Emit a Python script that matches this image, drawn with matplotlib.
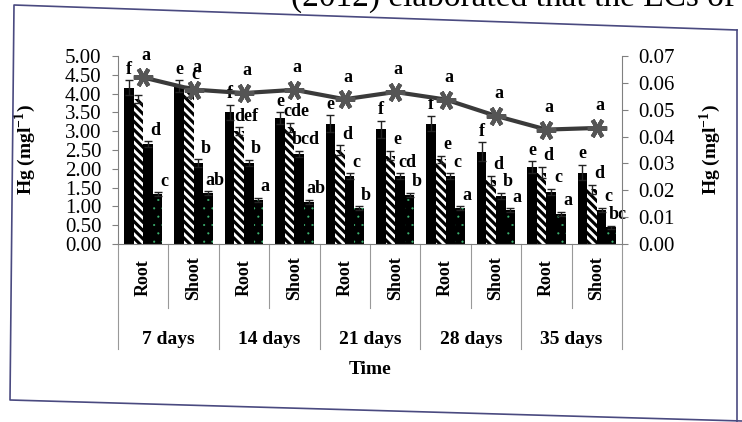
import numpy as np
import matplotlib
matplotlib.use("Agg")
import matplotlib.pyplot as plt
import matplotlib.transforms as mtransforms
from matplotlib.lines import Line2D

plt.rcParams['font.family'] = 'Liberation Serif'
plt.rcParams['mathtext.fontset'] = 'custom'
plt.rcParams['mathtext.rm'] = 'Liberation Serif'
plt.rcParams['mathtext.bf'] = 'Liberation Serif:bold'

# categories
parts = ["Root", "Shoot"] * 5
days = ["7 days", "14 days", "21 days", "28 days", "35 days"]

# bar series (left axis, Hg mg/l)
bar1 = [4.15, 4.20, 3.50, 3.35, 3.20, 3.05, 3.20, 2.45, 2.05, 1.90]
err1 = [0.20, 0.15, 0.20, 0.15, 0.22, 0.22, 0.20, 0.25, 0.15, 0.20]
bar2 = [3.85, 4.05, 3.00, 3.10, 2.50, 2.35, 2.25, 1.70, 1.90, 1.45]
err2 = [0.10, 0.15, 0.10, 0.12, 0.12, 0.12, 0.10, 0.12, 0.15, 0.12]
bar3 = [2.65, 2.15, 2.15, 2.40, 1.80, 1.80, 1.80, 1.28, 1.38, 0.90]
err3 = [0.08, 0.10, 0.08, 0.08, 0.08, 0.08, 0.08, 0.08, 0.08, 0.06]
bar4 = [1.32, 1.35, 1.18, 1.12, 0.95, 1.30, 0.95, 0.90, 0.80, 0.45]
err4 = [0.05, 0.05, 0.05, 0.05, 0.05, 0.05, 0.05, 0.05, 0.05, 0.04]

# significance letters
lab1 = ["f", "e", "f", "e", "e", "f", "f", "f", "e", "e"]
lab2 = ["", "c", "def", "cde", "d", "e", "e", "d", "d", "d"]
lab3 = ["d", "b", "b", "bcd", "c", "cd", "c", "b", "c", "c"]
lab4 = ["c", "ab", "a", "ab", "b", "b", "a", "a", "a", "bc"]

# line series (right axis)
line_vals = [0.0620, 0.0575, 0.0562, 0.0574, 0.0539, 0.0566, 0.0538, 0.0477, 0.0426, 0.0432]
line_labs = ["a"] * 10

W, H = 742, 422
fig = plt.figure(figsize=(W / 100, H / 100), dpi=100)
ax = fig.add_axes([118 / W, 1 - 244 / H, 504 / W, 188 / H])

x = np.arange(len(parts))
w = 0.19
offs = [-1.5 * w, -0.5 * w, 0.5 * w, 1.5 * w]
series = [(bar1, err1, lab1, dict(color="black", linewidth=0), 1.0),
          (bar2, err2, lab2, dict(facecolor="black", edgecolor="white", hatch="\\\\\\\\", linewidth=0), 2.0),
          (bar3, err3, lab3, dict(color="black", linewidth=0), 1.0),
          (bar4, err4, lab4, dict(facecolor="black", edgecolor="#3cb371", hatch="..", linewidth=0), 0.3)]

for i, (vals, errs, labs, style, hlw) in enumerate(series):
    xs = x + offs[i]
    with plt.rc_context({"hatch.linewidth": hlw}):
        ax.bar(xs, vals, width=w, zorder=2, **style)
    ax.errorbar(xs, vals, yerr=errs, fmt="none", ecolor="#222222", elinewidth=1,
                capsize=3, capthick=1, zorder=3)
    dx = 0 if i == 0 else 5
    for xx, v, e, t in zip(xs, vals, errs, labs):
        if t:
            ax.annotate(t, (xx, v + e), xytext=(dx, 2), textcoords="offset points",
                        ha="center", va="bottom", fontsize=13, fontweight="bold", zorder=4)

ax.set_xlim(-0.5, len(parts) - 0.5)
ax.set_ylim(0, 5)
ax.set_yticks(np.arange(0, 5.01, 0.5))
ax.yaxis.set_major_formatter(matplotlib.ticker.FormatStrFormatter("%.2f"))
ax.set_xticks([])
ax.tick_params(axis="y", direction="out", length=4, width=0.8, color="gray", labelsize=15, pad=8)
for s in ["top", "right"]:
    ax.spines[s].set_visible(False)
for s in ["left", "bottom"]:
    ax.spines[s].set_color("gray")
    ax.spines[s].set_linewidth(0.8)
ax.set_ylabel(r"Hg (mgl$^{\mathbf{-1}}$)", fontsize=14, fontweight="bold")
ax.yaxis.set_label_coords(-0.159, 0.5)

# category labels and separators
trans = mtransforms.blended_transform_factory(ax.transData, ax.transAxes)
for xx, t in zip(x, parts):
    ax.text(xx, -0.18, t, transform=trans, rotation=90, ha="center", va="center",
            fontsize=13, fontweight="bold")
for k, t in enumerate(days):
    ax.text(2 * k + 0.5, -0.51, t, transform=trans, ha="center", va="center",
            fontsize=14, fontweight="bold")
for k in range(len(parts) + 1):
    bottom = -0.56 if k % 2 == 0 else -0.34
    ax.add_line(Line2D([k - 0.5, k - 0.5], [0, bottom], transform=trans, color="#999999",
                       linewidth=0.8, clip_on=False))
ax.text(0.5, -0.67, "Time", transform=ax.transAxes, ha="center", va="center",
        fontsize=14, fontweight="bold")

# line on secondary axis
ax2 = ax.twinx()
ax2.plot(x, line_vals, color="#3a3a3a", linewidth=3, marker=(6, 2, 90), markersize=14,
         markeredgewidth=3, markeredgecolor="#555555", zorder=5)
for xx, v, t in zip(x, line_vals, line_labs):
    ax2.annotate(t, (xx, v), xytext=(2, 16), textcoords="offset points", ha="center",
                 va="center", fontsize=13, fontweight="bold")
ax2.set_ylim(0, 0.07)
ax2.set_yticks(np.arange(0, 0.0701, 0.01))
ax2.yaxis.set_major_formatter(matplotlib.ticker.FormatStrFormatter("%.2f"))
ax2.tick_params(axis="y", direction="out", length=4, width=0.8, color="gray", labelsize=15, pad=8)
for s in ["top", "left", "bottom"]:
    ax2.spines[s].set_visible(False)
ax2.spines["right"].set_color("gray")
ax2.spines["right"].set_linewidth(0.8)
ax2.set_ylabel(r"Hg (mgl$^{\mathbf{-1}}$)", fontsize=14, fontweight="bold")
ax2.yaxis.set_label_coords(1.149, 0.5)

# scanned page: frame and text line above
def px(xp, yp):
    return xp / W, 1 - yp / H

fx, fy = zip(px(737, 30), px(14, 5), px(10, 400), px(742, 421))
fig.add_artist(Line2D(fx, fy, transform=fig.transFigure, color="#4a4a80", linewidth=1.2))
fx, fy = zip(px(737, 30), px(737, 422))
fig.add_artist(Line2D(fx, fy, transform=fig.transFigure, color="#4a4a80", linewidth=1.2))
tx, ty = px(735, 6)
fig.text(tx, ty, "(2012) elaborated that the ECs of", ha="right", va="baseline", fontsize=24)

fig.savefig("out.png", dpi=100)
